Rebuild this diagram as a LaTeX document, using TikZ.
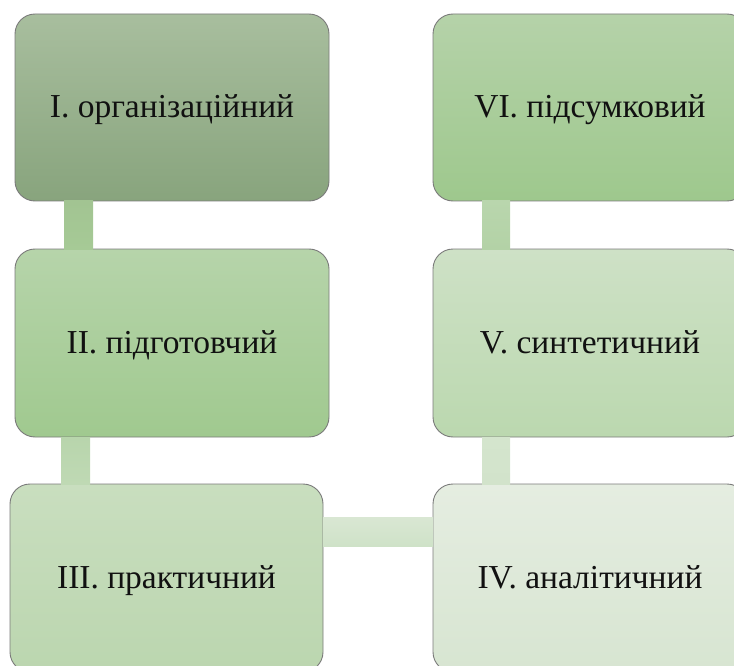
\documentclass[tikz,border=0pt]{standalone}
\usepackage{fontspec}
\setmainfont{Liberation Serif}
\usetikzlibrary{calc}
\definecolor{oline}{HTML}{7A7A7A}
\definecolor{aTop}{HTML}{A8BE9E}\definecolor{aBot}{HTML}{88A47D}
\definecolor{bTop}{HTML}{B6D4AA}\definecolor{bBot}{HTML}{A0C98F}
\definecolor{cTop}{HTML}{C9DEBF}\definecolor{cBot}{HTML}{BBD6AF}
\definecolor{dTop}{HTML}{E5EDE1}\definecolor{dBot}{HTML}{D7E5D1}
\definecolor{eTop}{HTML}{CEE1C6}\definecolor{eBot}{HTML}{BBD8AF}
\definecolor{fTop}{HTML}{B5D2A9}\definecolor{fBot}{HTML}{9EC88D}
\definecolor{k12a}{HTML}{A2C492}\definecolor{k12b}{HTML}{A6CA96}
\definecolor{k23a}{HTML}{B8D5AC}\definecolor{k23b}{HTML}{BFD9B4}
\definecolor{k34a}{HTML}{D9E7D3}\definecolor{k34b}{HTML}{CFE2C8}
\definecolor{k45a}{HTML}{D4E5CD}\definecolor{k45b}{HTML}{D2E3CB}
\definecolor{k56a}{HTML}{B9D6AD}\definecolor{k56b}{HTML}{B3D2A6}
\definecolor{txt}{HTML}{111111}
\tikzset{
  stage/.style={draw=oline, line width=0.9pt, rounded corners=20pt, inner sep=0pt, outer sep=0pt,
    minimum width=314pt, minimum height=188pt, text height=21pt, text depth=0pt,
    font=\rmfamily\fontsize{33.5}{40}\selectfont, text=txt},
}
\begin{document}
\begin{tikzpicture}[x=1pt,y=-1pt]
\useasboundingbox (0,0) rectangle (734,666);
\clip (0,0) rectangle (734,666);
% boxes
\node[stage, top color=aTop, bottom color=aBot, minimum height=187pt] (s1) at (172,107.5) {I. організаційний};
\node[stage, top color=bTop, bottom color=bBot] (s2) at (172,343) {II. підготовчий};
\node[stage, top color=cTop, bottom color=cBot, minimum width=313pt] (s3) at (166.5,578) {III. практичний};
\node[stage, top color=dTop, bottom color=dBot] (s4) at (590,578) {IV. аналітичний};
\node[stage, top color=eTop, bottom color=eBot] (s5) at (590,343) {V. синтетичний};
\node[stage, top color=fTop, bottom color=fBot, minimum height=187pt] (s6) at (590,107.5) {VI. підсумковий};
% connectors
\shade[top color=k12a, bottom color=k12b] ($(s1.south west)+(49,0)$) rectangle ($(s2.north west)+(78,0)$);
\shade[top color=k23a, bottom color=k23b] ($(s2.south west)+(46,0)$) rectangle ($(s3.north west)+(80,0)$);
\shade[top color=k34a, bottom color=k34b] ($(s3.north east)+(0,33)$) rectangle ($(s4.north west)+(0,62)$);
\shade[top color=k45a, bottom color=k45b] ($(s5.south west)+(49,0)$) rectangle ($(s4.north west)+(77,0)$);
\shade[top color=k56a, bottom color=k56b] ($(s6.south west)+(49,0)$) rectangle ($(s5.north west)+(77,0)$);
\end{tikzpicture}
\end{document}
